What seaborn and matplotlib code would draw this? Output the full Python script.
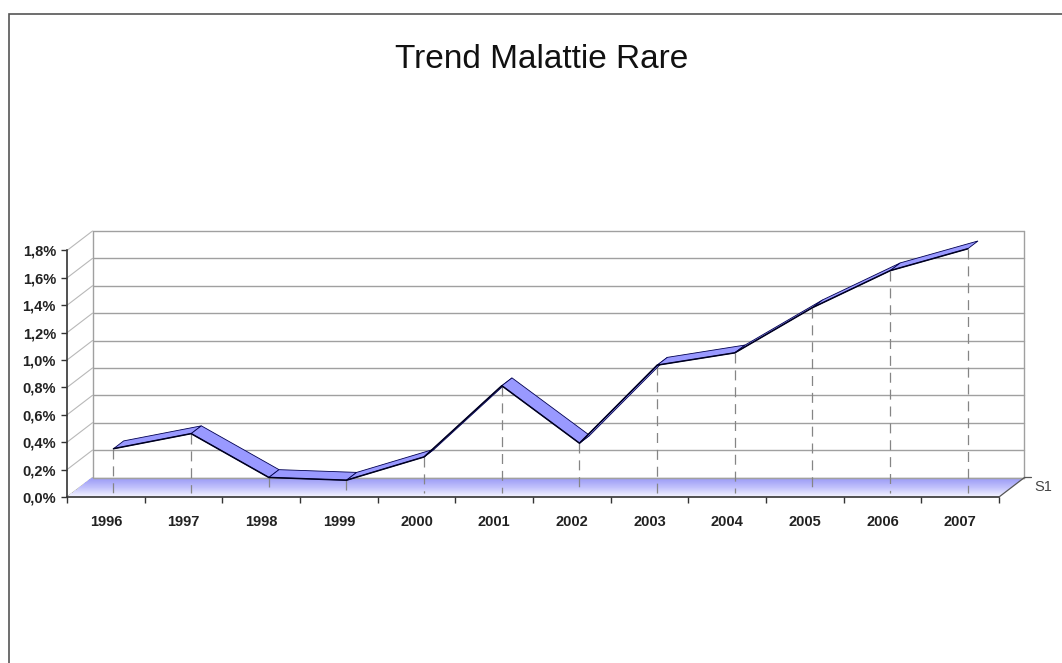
import numpy as np
import pandas as pd
import matplotlib
matplotlib.use("Agg")
import matplotlib.pyplot as plt
from matplotlib.patches import Polygon, Rectangle
from matplotlib.colors import LinearSegmentedColormap
import seaborn as sns

years = ["1996", "1997", "1998", "1999", "2000", "2001", "2002", "2003", "2004", "2005", "2006", "2007"]
trend = [0.31, 0.42, 0.10, 0.08, 0.25, 0.77, 0.35, 0.92, 1.01, 1.34, 1.61, 1.77]
y_ticks = [0.0, 0.2, 0.4, 0.6, 0.8, 1.0, 1.2, 1.4, 1.6, 1.8]
title = "Trend Malattie Rare"
series_name = "S1"

sns.set_theme(style="white")
plt.rcParams["font.family"] = ["Liberation Sans", "DejaVu Sans"]

W, H = 1062, 663
fig = plt.figure(figsize=(W / 100, H / 100), dpi=100, facecolor="white")
L, R, B, T = 67, 999, 497, 250.5
ax = fig.add_axes([L / W, 1 - B / H, (R - L) / W, (B - T) / H])
ax.patch.set_alpha(0)

# depth of the pseudo-3D box, in data units
dx = 25.5 / ((R - L) / len(years))
dy = 19.5 / ((B - T) / 1.8)
x = np.arange(len(years))
v = np.array(trend)
f, b = 0.3, 0.7
x0, x1 = -0.5, len(years) - 0.5
grey = "#a0a0a0"

# back wall grid and side-wall diagonals
for t in y_ticks:
    ax.plot([x0 + dx, x1 + dx], [t + dy, t + dy], color=grey, lw=1.0, clip_on=False, zorder=1)
    ax.plot([x0, x0 + dx], [t, t + dy], color="#b8b8b8", lw=0.8, clip_on=False, zorder=1)
ax.plot([x0 + dx, x0 + dx], [dy, 1.8 + dy], color=grey, lw=1.0, clip_on=False, zorder=1)
ax.plot([x1 + dx, x1 + dx], [dy, 1.8 + dy], color=grey, lw=1.0, clip_on=False, zorder=1)

# floor with vertical gradient, as a skewed mesh
cmap = LinearSegmentedColormap.from_list("floor", ["#f6f6ff", "#c0c0fb", "#9898f5"])
fr = np.linspace(0, 1, 41)
mesh_x = np.array([[x0 + dx * q, x1 + dx * q] for q in fr])
mesh_y = np.array([[dy * q, dy * q] for q in fr])
ax.pcolormesh(mesh_x, mesh_y, ((fr[:-1] + fr[1:]) / 2).reshape(-1, 1), cmap=cmap, shading="flat",
              zorder=2, clip_on=False, linewidth=0, antialiased=False)
ax.plot([x0 + dx, x1 + dx], [dy, dy], color=grey, lw=1.0, clip_on=False, zorder=3)
ax.plot([x1, x1 + dx, x1 + dx + 0.09], [0, dy, dy], color="#555555", lw=0.9, clip_on=False, zorder=3)

# drop lines
for xi, vi in zip(x, v):
    ax.plot([xi + f * dx] * 2, [vi + f * dy, f * dy - 0.015], color="#858585", lw=0.9,
            dashes=(8, 5.5), clip_on=False, zorder=4)

# ribbon
for i in range(len(x) - 1):
    quad = [(x[i] + f * dx, v[i] + f * dy), (x[i + 1] + f * dx, v[i + 1] + f * dy),
            (x[i + 1] + b * dx, v[i + 1] + b * dy), (x[i] + b * dx, v[i] + b * dy)]
    ax.add_patch(Polygon(quad, closed=True, facecolor="#9999ff", edgecolor="#000050", lw=0.6,
                         clip_on=False, zorder=5))
df = pd.DataFrame({"pos": x + f * dx, "val": v + f * dy})
sns.lineplot(data=df, x="pos", y="val", color="#000020", lw=1.1, ax=ax, zorder=6,
             clip_on=False, legend=False, errorbar=None)

ax.set_xlim(x0, x1)
ax.set_ylim(0, 1.8)

# axes
sns.despine(ax=ax, top=True, right=True)
for s in ("left", "bottom"):
    ax.spines[s].set_color("#333333")
    ax.spines[s].set_linewidth(1.2)
ax.set_xlabel("")
ax.set_ylabel("")
ax.set_yticks(y_ticks)
ax.set_yticklabels([f"{t:.1f}%".replace(".", ",") for t in y_ticks], fontsize=10.5, fontweight="bold", color="#222222")
ax.set_xticks(np.arange(len(years) + 1) - 0.5)
ax.set_xticklabels([])
ax.set_xticks(x, minor=True)
ax.set_xticklabels(years, minor=True, fontsize=10.5, fontweight="bold", color="#222222")
ax.tick_params(axis="x", which="major", length=4.5, width=1, color="#333333", bottom=True)
ax.tick_params(axis="x", which="minor", length=0, pad=13, bottom=True)
ax.tick_params(axis="y", length=4, width=1, color="#333333", pad=4, left=True)

ax.text(x1 + dx + 0.13, dy - 0.07, series_name, fontsize=10.5, color="#444444", va="center", ha="left", clip_on=False)

# outer frame and title
fig.add_artist(Rectangle((9 / W, -0.01), 1.1, 1 - 13.5 / H + 0.01, transform=fig.transFigure,
                         facecolor="none", edgecolor="#555555", lw=1.2))
fig.text(542 / W, 1 - 59.5 / H, title, fontsize=24, color="#111111", ha="center", va="center")

fig.savefig("out.png", dpi=100)
